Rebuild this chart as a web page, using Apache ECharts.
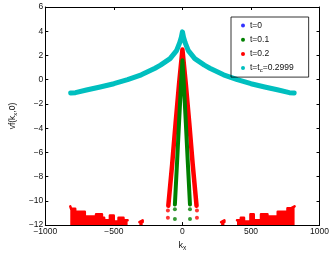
<!DOCTYPE html>
<html><head><meta charset="utf-8">
<script src="https://cdn.jsdelivr.net/npm/echarts@6/dist/echarts.min.js"></script>
<style>html,body{margin:0;padding:0;background:#fff}#c{width:332px;height:257px}</style>
</head><body><div id="c"></div>
<script>
const xTicks = [-1000, -500, 0, 500, 1000];
const yTicks = [-12, -10, -8, -6, -4, -2, 0, 2, 4, 6];
const seriesNames = ['t=0', 't=0.1', 't=0.2', 't=t_c=0.2999'];
const colors = ['#0000ff', '#008000', '#ff0000', '#00bfbf'];

// t=0 (hidden under the others)
const blueData = [[0, 1.0]];
// t=0.1 main V and trailing dots
const greenLine = [[-55, -10.3], [-40, -7.0], [-25, -3.6], [-10, -0.3], [0, 1.6], [10, -0.3], [25, -3.6], [40, -7.0], [55, -10.3]];
const greenDots = [[-55, -10.7], [-55, -11.5], [55, -10.7], [55, -11.5]];
// t=0.2 main V, trailing dots and bottom noise
const redLine = [[-103, -10.4], [-75, -7.0], [-50, -3.6], [-25, -0.4], [0, 2.5], [25, -0.4], [50, -3.6], [75, -7.0], [103, -10.4]];
const redDots = [[-106, -10.8], [-106, -11.4], [106, -10.8], [106, -11.4]];
const redNoise = [
  [-818, -10.45], [-812, -10.45], [-812, -10.65], [-782, -10.65], [-782, -10.9], [-712, -10.9],
  [-712, -11.3], [-630, -11.3], [-630, -11.1], [-587, -11.1], [-587, -11.4], [-571, -11.4],
  [-571, -11.6], [-529, -11.6], [-529, -11.2], [-501, -11.2], [-501, -11.7], [-466, -11.7],
  [-466, -11.4], [-430, -11.4], [-430, -11.6], [-400, -11.6], null,
  [-314, -11.75], [-314, -11.6], [-290, -11.6], [-290, -11.75], null,
  [282, -11.75], [282, -11.6], [306, -11.6], [306, -11.75], null,
  [398, -11.6], [426, -11.6], [426, -11.4], [449, -11.4], [449, -11.7], [496, -11.7],
  [496, -11.1], [520, -11.1], [520, -11.6], [573, -11.6], [573, -11.1], [620, -11.1],
  [620, -11.3], [695, -11.3], [695, -10.9], [766, -10.9], [766, -10.6], [794, -10.6],
  [794, -10.45], [818, -10.45]
];
// t=t_c curve
const cyanData = [
  [-815, -1.1], [-780, -1.07], [-700, -0.85], [-600, -0.6], [-500, -0.33], [-400, 0.0],
  [-300, 0.4], [-200, 0.95], [-160, 1.2], [-90, 1.74], [-43, 2.4], [-20, 3.05], [-8, 3.5], [0, 3.95],
  [8, 3.5], [20, 3.05], [43, 2.4], [90, 1.74], [160, 1.2], [200, 0.95], [300, 0.4], [400, 0.0],
  [500, -0.33], [600, -0.6], [700, -0.85], [780, -1.07], [815, -1.1]
];

const font = '"Liberation Sans", Arial, sans-serif';
const lbl = { fontSize: 8.5, color: '#111', fontFamily: font };
const minus = v => String(v).replace('-', '\u2212');
const chart = echarts.init(document.getElementById('c'));
const axisCommon = {
  axisLine: { show: true, onZero: false, lineStyle: { color: '#000', width: 1 } },
  axisTick: { show: true, inside: true, length: 3, lineStyle: { color: '#000' } },
  splitLine: { show: false }
};
chart.setOption({
  animation: false,
  backgroundColor: '#fff',
  grid: { left: 36, right: 12, top: 7, bottom: 26 },
  legend: {
    orient: 'vertical', left: 231, top: 17, width: 80,
    data: seriesNames.map(n => ({ name: n, icon: 'circle' })),
    icon: 'circle', itemWidth: 4, itemHeight: 4, itemGap: 5.2,
    lineStyle: { width: 0 },
    borderColor: '#000', borderWidth: 0.8, padding: [4, 15, 4, 10],
    textStyle: { fontSize: 8.5, color: '#111', fontFamily: font,
      rich: { n: { fontSize: 8.5, fontFamily: font, color: '#111' }, s: { fontSize: 6, fontFamily: font, color: '#111', verticalAlign: 'bottom', padding: [4, 0, 0, 0] } } },
    formatter: function (name) {
      if (name === 't=t_c=0.2999') return '{n|t=t}{s|c}{n|=0.2999}';
      return '{n|' + name + '}';
    }
  },
  xAxis: [
    Object.assign({ type: 'value', min: xTicks[0], max: xTicks[xTicks.length - 1], interval: 500,
      axisLabel: Object.assign({ margin: 2, formatter: minus }, lbl),
      name: '{n|k}{s|x}', nameLocation: 'middle', nameGap: 10,
      nameTextStyle: { rich: { n: { fontSize: 9, fontFamily: font, color: '#111' }, s: { fontSize: 6.5, fontFamily: font, color: '#111', padding: [6, 0, 0, 0] } } }
    }, axisCommon),
    Object.assign({ type: 'value', position: 'top', min: xTicks[0], max: xTicks[xTicks.length - 1], interval: 500,
      axisLabel: { show: false } }, axisCommon)
  ],
  yAxis: [
    Object.assign({ type: 'value', min: yTicks[0], max: yTicks[yTicks.length - 1], interval: 2,
      axisLabel: Object.assign({ margin: 2, formatter: minus }, lbl),
      name: '{n|vf(k}{s|x}{n|,0)}', nameLocation: 'middle', nameGap: 20,
      nameTextStyle: { rich: { n: { fontSize: 8.5, fontFamily: font, color: '#111' }, s: { fontSize: 6, fontFamily: font, color: '#111', padding: [5, 0, 0, 0] } } }
    }, axisCommon),
    Object.assign({ type: 'value', position: 'right', min: yTicks[0], max: yTicks[yTicks.length - 1], interval: 2,
      axisLabel: { show: false } }, axisCommon)
  ],
  series: [
    { name: seriesNames[3], type: 'line', data: cyanData, symbol: 'none', z: 2,
      itemStyle: { color: colors[3] }, lineStyle: { color: colors[3], width: 5, cap: 'round', join: 'round' } },
    { name: seriesNames[0], type: 'scatter', data: blueData, symbolSize: 3, z: 1, itemStyle: { color: colors[0] } },
    { name: seriesNames[2], type: 'line', data: redNoise, symbol: 'none', z: 3, connectNulls: false,
      itemStyle: { color: colors[2] },
      lineStyle: { color: colors[2], width: 2.5, join: 'round', cap: 'round' },
      areaStyle: { color: colors[2], opacity: 1, origin: 'start' } },
    { name: seriesNames[2], type: 'line', data: redLine, symbol: 'none', z: 4,
      itemStyle: { color: colors[2] }, lineStyle: { color: colors[2], width: 4.5, cap: 'round', join: 'round' } },
    { name: seriesNames[2], type: 'scatter', data: redDots, symbolSize: 4, z: 4, itemStyle: { color: colors[2] } },
    { name: seriesNames[1], type: 'line', data: greenLine, symbol: 'none', z: 5,
      itemStyle: { color: colors[1] }, lineStyle: { color: colors[1], width: 4, cap: 'round', join: 'round' } },
    { name: seriesNames[1], type: 'scatter', data: greenDots, symbolSize: 4, z: 5, itemStyle: { color: colors[1] } }
  ]
});
</script></body></html>
